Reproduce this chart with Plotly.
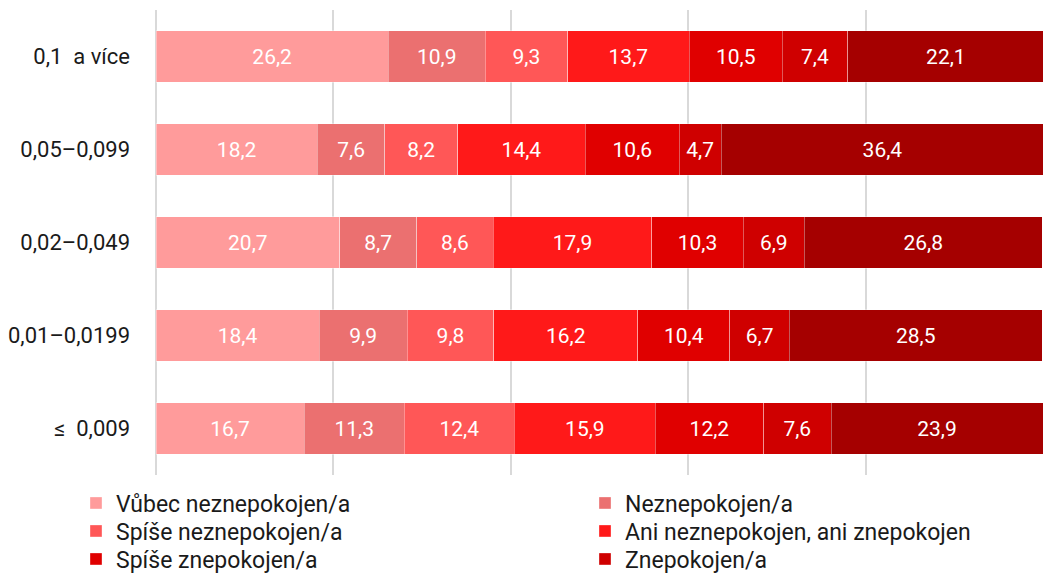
import plotly.graph_objects as go

categories = ["0,1\u00a0 a více", "0,05–0,099", "0,02–0,049", "0,01–0,0199", "≤\u00a0 0,009"]
series_names = [
    "Vůbec neznepokojen/a",
    "Neznepokojen/a",
    "Spíše neznepokojen/a",
    "Ani neznepokojen, ani znepokojen",
    "Spíše znepokojen/a",
    "Znepokojen/a",
    "Velmi znepokojen/a",
]
vubec_neznepokojen = [26.2, 18.2, 20.7, 18.4, 16.7]
neznepokojen = [10.9, 7.6, 8.7, 9.9, 11.3]
spise_neznepokojen = [9.3, 8.2, 8.6, 9.8, 12.4]
ani_ani = [13.7, 14.4, 17.9, 16.2, 15.9]
spise_znepokojen = [10.5, 10.6, 10.3, 10.4, 12.2]
znepokojen = [7.4, 4.7, 6.9, 6.7, 7.6]
velmi_znepokojen = [22.1, 36.4, 26.8, 28.5, 23.9]

series_values = [vubec_neznepokojen, neznepokojen, spise_neznepokojen, ani_ani,
                 spise_znepokojen, znepokojen, velmi_znepokojen]
colors = ["#FF9B9B", "#EB7070", "#FF5757", "#FF1919", "#E00000", "#CF0000", "#A50000"]
# one legend per row (two entries each); last series is cut off in the reference
legend_ids = ["legend", "legend", "legend2", "legend2", "legend3", "legend3", None]

FONT = "Roboto"
fig = go.Figure()
for name, vals, col, lg in zip(series_names, series_values, colors, legend_ids):
    fig.add_trace(go.Bar(
        y=categories, x=vals, name=name, orientation="h",
        marker=dict(color=col, line=dict(color="rgba(255,255,255,0.35)", width=1)),
        text=vals, texttemplate="%{x:.1f}", textposition="inside",
        insidetextanchor="middle", constraintext="none",
        textfont=dict(family=FONT, size=21, color="white"),
        showlegend=lg is not None, legend=lg if lg else "legend",
        hoverinfo="skip",
    ))

plot_top, plot_bottom = 10, 475
ph = plot_bottom - plot_top
legend_x = (76 - 156) / 887
row_centers = [503, 531, 559]

def legend_cfg(yc):
    return dict(
        orientation="h", xref="paper", yref="paper",
        x=legend_x, y=-(yc - plot_bottom) / ph, xanchor="left", yanchor="middle",
        entrywidth=464, entrywidthmode="pixels", traceorder="normal",
        font=dict(family=FONT, size=23, color="#1a1a1a"),
        itemclick=False, itemdoubleclick=False, bgcolor="rgba(0,0,0,0)",
    )

fig.update_layout(
    barmode="stack",
    width=1043, height=574,
    margin=dict(l=156, r=0, t=plot_top, b=574 - plot_bottom, autoexpand=False),
    bargap=0.45,
    separators=", ",
    plot_bgcolor="white", paper_bgcolor="white",
    font=dict(family=FONT, size=22, color="#1a1a1a"),
    legend=legend_cfg(row_centers[0]),
    legend2=legend_cfg(row_centers[1]),
    legend3=legend_cfg(row_centers[2]),
    uniformtext=dict(minsize=8, mode="show"),
)
fig.update_xaxes(range=[0, 100], dtick=20, showgrid=True, gridcolor="#d9d9d9", gridwidth=2,
                 zeroline=True, zerolinecolor="#d9d9d9", zerolinewidth=2,
                 showticklabels=False, fixedrange=True)
fig.update_yaxes(autorange="reversed", showgrid=False, ticklabelstandoff=25,
                 tickfont=dict(family=FONT, size=22, color="#1a1a1a"), fixedrange=True)

fig.write_html("out.html", config={"displayModeBar": False},
               post_script="document.body.style.margin='0';")
